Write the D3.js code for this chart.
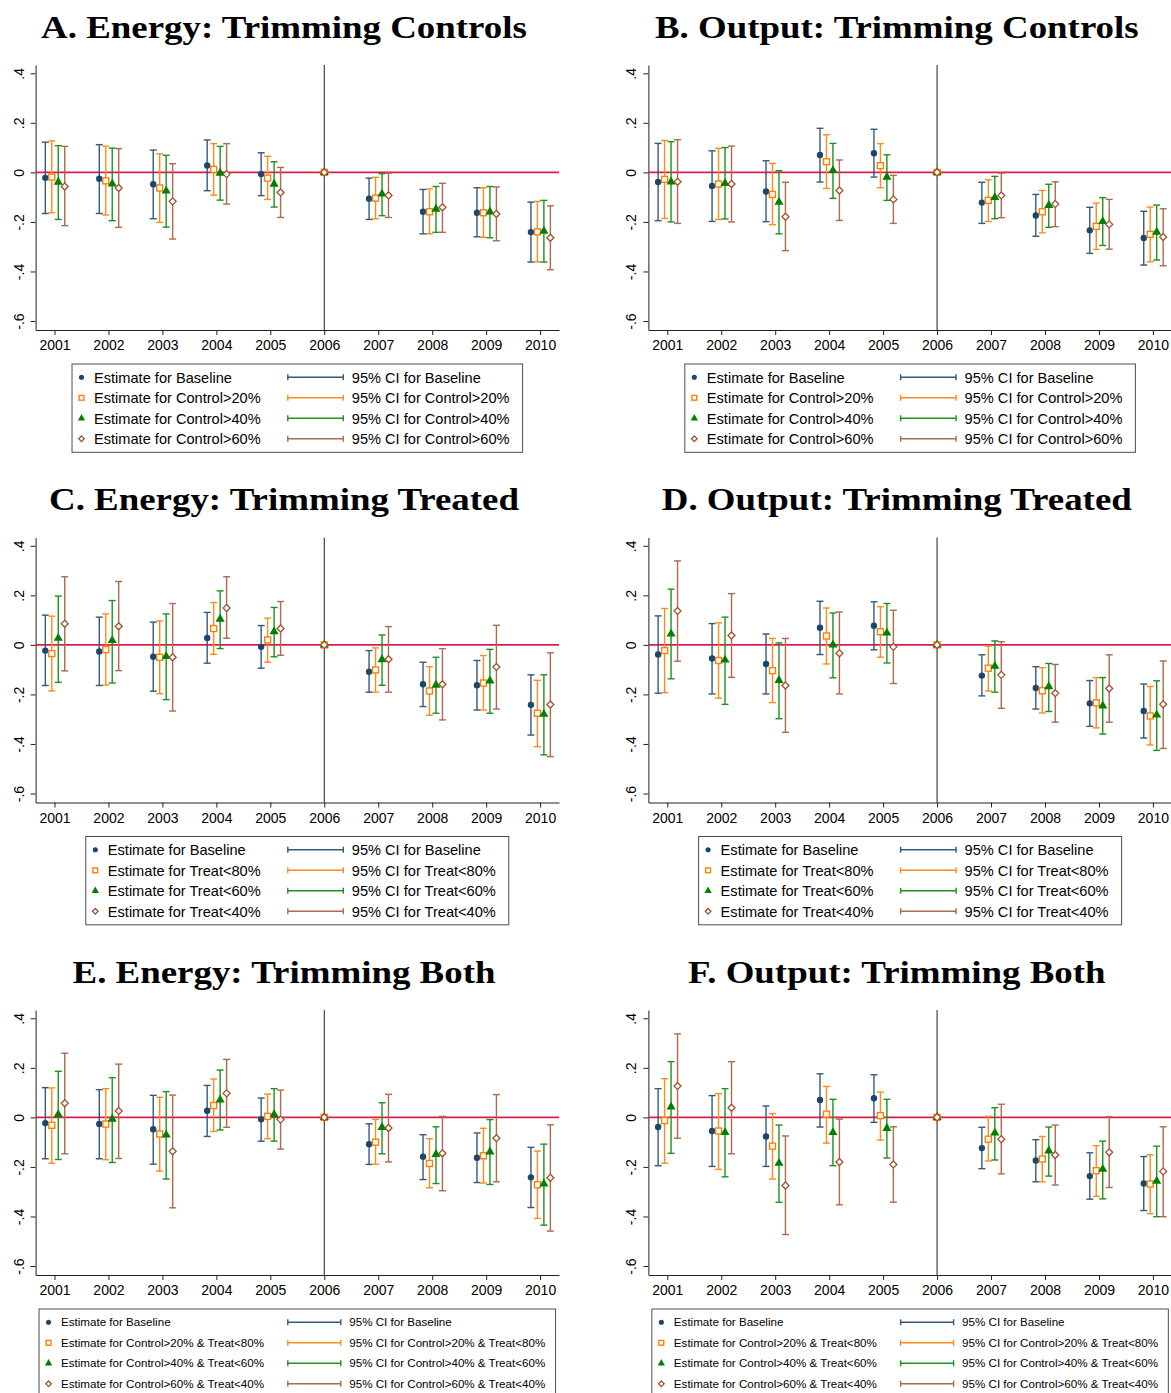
<!DOCTYPE html>
<html>
<head>
<meta charset="utf-8">
<script src="https://cdn.jsdelivr.net/npm/d3@7"></script>
<style>
  body { margin: 0; background: #fff; }
  svg { display: block; }
</style>
</head>
<body>
<div id="chart"></div>
<script>
// ---- data ----
const years = [2001, 2002, 2003, 2004, 2005, 2006, 2007, 2008, 2009, 2010];
const refYear = 2006;
const yTicks = [0.4, 0.2, 0, -0.2, -0.4, -0.6];
const yTickLabels = [".4", ".2", "0", "-.2", "-.4", "-.6"];

const titles = [
  "A. Energy: Trimming Controls", "B. Output: Trimming Controls",
  "C. Energy: Trimming Treated", "D. Output: Trimming Treated",
  "E. Energy: Trimming Both", "F. Output: Trimming Both"
];
const labelsControl = ["Baseline", "Control>20%", "Control>40%", "Control>60%"];
const labelsTreat = ["Baseline", "Treat<80%", "Treat<60%", "Treat<40%"];
const labelsBoth = ["Baseline", "Control>20% & Treat<80%", "Control>40% & Treat<60%", "Control>60% & Treat<40%"];

// rows: Baseline, 2nd, 3rd, 4th specification; columns: years (2006 = reference)
const estA = [
  [-0.022, -0.026, -0.048, 0.028, -0.007, 0, -0.106, -0.159, -0.163, -0.241],
  [-0.019, -0.034, -0.063, 0.012, -0.023, 0, -0.104, -0.159, -0.163, -0.240],
  [-0.039, -0.046, -0.075, -0.003, -0.047, 0, -0.087, -0.148, -0.159, -0.237],
  [-0.057, -0.063, -0.117, -0.007, -0.081, 0, -0.093, -0.141, -0.168, -0.264]
];
const loA = [
  [-0.166, -0.166, -0.187, -0.074, -0.094, null, -0.190, -0.248, -0.260, -0.362],
  [-0.163, -0.172, -0.202, -0.092, -0.109, null, -0.187, -0.248, -0.262, -0.361],
  [-0.190, -0.195, -0.221, -0.112, -0.140, null, -0.175, -0.242, -0.264, -0.362],
  [-0.215, -0.222, -0.269, -0.128, -0.182, null, -0.182, -0.242, -0.276, -0.393]
];
const hiA = [
  [0.122, 0.112, 0.090, 0.131, 0.079, null, -0.023, -0.069, -0.062, -0.120],
  [0.127, 0.106, 0.075, 0.116, 0.065, null, -0.020, -0.067, -0.062, -0.117],
  [0.108, 0.098, 0.069, 0.105, 0.043, null, -0.005, -0.057, -0.057, -0.113],
  [0.105, 0.096, 0.035, 0.116, 0.020, null, -0.003, -0.044, -0.059, -0.135]
];

const estB = [
  [-0.039, -0.055, -0.077, 0.070, 0.077, 0, -0.122, -0.174, -0.234, -0.265],
  [-0.028, -0.047, -0.089, 0.043, 0.027, 0, -0.113, -0.159, -0.218, -0.250],
  [-0.038, -0.044, -0.120, 0.008, -0.019, 0, -0.101, -0.133, -0.198, -0.241],
  [-0.038, -0.047, -0.179, -0.073, -0.109, 0, -0.093, -0.128, -0.210, -0.261]
];
const loB = [
  [-0.195, -0.198, -0.199, -0.039, -0.019, null, -0.206, -0.258, -0.327, -0.374],
  [-0.186, -0.190, -0.211, -0.065, -0.062, null, -0.198, -0.244, -0.311, -0.361],
  [-0.200, -0.188, -0.248, -0.105, -0.113, null, -0.187, -0.222, -0.295, -0.354],
  [-0.206, -0.200, -0.316, -0.194, -0.206, null, -0.183, -0.219, -0.310, -0.377]
];
const hiB = [
  [0.117, 0.087, 0.047, 0.178, 0.174, null, -0.040, -0.089, -0.141, -0.157],
  [0.129, 0.097, 0.036, 0.152, 0.116, null, -0.030, -0.073, -0.124, -0.140],
  [0.124, 0.100, 0.007, 0.117, 0.071, null, -0.016, -0.048, -0.102, -0.132],
  [0.132, 0.106, -0.040, 0.050, -0.012, null, -0.003, -0.038, -0.109, -0.147]
];

const estC = [
  [-0.023, -0.027, -0.048, 0.028, -0.008, 0, -0.108, -0.159, -0.163, -0.242],
  [-0.035, -0.019, -0.050, 0.066, 0.020, 0, -0.101, -0.186, -0.154, -0.276],
  [0.027, 0.018, -0.046, 0.104, 0.054, 0, -0.059, -0.162, -0.145, -0.280],
  [0.085, 0.075, -0.050, 0.149, 0.066, 0, -0.058, -0.159, -0.089, -0.241]
];
const loC = [
  [-0.164, -0.164, -0.187, -0.074, -0.094, null, -0.191, -0.249, -0.263, -0.364],
  [-0.186, -0.162, -0.197, -0.038, -0.070, null, -0.191, -0.284, -0.263, -0.411],
  [-0.151, -0.154, -0.221, -0.015, -0.048, null, -0.163, -0.276, -0.276, -0.444],
  [-0.105, -0.104, -0.267, 0.027, -0.042, null, -0.191, -0.303, -0.259, -0.451]
];
const hiC = [
  [0.120, 0.112, 0.092, 0.131, 0.078, null, -0.023, -0.070, -0.063, -0.121],
  [0.116, 0.125, 0.097, 0.171, 0.108, null, -0.012, -0.088, -0.043, -0.143],
  [0.197, 0.179, 0.125, 0.218, 0.151, null, 0.040, -0.050, -0.018, -0.121],
  [0.275, 0.256, 0.167, 0.275, 0.175, null, 0.074, -0.015, 0.079, -0.032]
];

const estD = [
  [-0.039, -0.055, -0.077, 0.069, 0.077, 0, -0.124, -0.174, -0.236, -0.267],
  [-0.023, -0.063, -0.104, 0.036, 0.053, 0, -0.094, -0.185, -0.234, -0.287],
  [0.044, -0.061, -0.143, 0.000, 0.048, 0, -0.086, -0.168, -0.246, -0.283],
  [0.137, 0.038, -0.164, -0.034, -0.008, 0, -0.121, -0.195, -0.176, -0.240]
];
const loD = [
  [-0.195, -0.198, -0.198, -0.039, -0.020, null, -0.206, -0.259, -0.329, -0.376],
  [-0.193, -0.215, -0.233, -0.077, -0.050, null, -0.186, -0.275, -0.335, -0.404],
  [-0.137, -0.240, -0.298, -0.133, -0.073, null, -0.191, -0.269, -0.360, -0.426],
  [-0.066, -0.131, -0.353, -0.198, -0.156, null, -0.256, -0.312, -0.312, -0.418]
];
const hiD = [
  [0.117, 0.086, 0.044, 0.176, 0.174, null, -0.040, -0.088, -0.144, -0.158],
  [0.147, 0.089, 0.026, 0.149, 0.154, null, -0.005, -0.092, -0.132, -0.168],
  [0.225, 0.112, 0.008, 0.129, 0.167, null, 0.016, -0.075, -0.132, -0.145],
  [0.339, 0.207, 0.026, 0.133, 0.140, null, 0.013, -0.079, -0.040, -0.065]
];

const estE = [
  [-0.023, -0.027, -0.048, 0.027, -0.008, 0, -0.108, -0.159, -0.163, -0.242],
  [-0.032, -0.027, -0.067, 0.048, 0.004, 0, -0.100, -0.186, -0.155, -0.272],
  [0.012, -0.007, -0.071, 0.071, 0.012, 0, -0.040, -0.149, -0.139, -0.268],
  [0.057, 0.026, -0.137, 0.097, -0.009, 0, -0.043, -0.145, -0.084, -0.244]
];
const loE = [
  [-0.167, -0.167, -0.189, -0.077, -0.096, null, -0.190, -0.251, -0.263, -0.364],
  [-0.185, -0.171, -0.217, -0.057, -0.086, null, -0.189, -0.284, -0.265, -0.408],
  [-0.170, -0.182, -0.249, -0.051, -0.096, null, -0.147, -0.267, -0.271, -0.435],
  [-0.147, -0.166, -0.365, -0.040, -0.128, null, -0.180, -0.296, -0.260, -0.459]
];
const hiE = [
  [0.120, 0.112, 0.089, 0.129, 0.078, null, -0.026, -0.070, -0.063, -0.121],
  [0.119, 0.116, 0.081, 0.155, 0.094, null, -0.008, -0.086, -0.044, -0.136],
  [0.186, 0.160, 0.104, 0.191, 0.116, null, 0.059, -0.038, -0.009, -0.108],
  [0.259, 0.215, 0.090, 0.234, 0.110, null, 0.093, 0.004, 0.092, -0.030]
];

const estF = [
  [-0.039, -0.055, -0.077, 0.070, 0.077, 0, -0.124, -0.174, -0.237, -0.267],
  [-0.013, -0.055, -0.116, 0.013, 0.007, 0, -0.088, -0.168, -0.215, -0.269],
  [0.042, -0.061, -0.185, -0.061, -0.044, 0, -0.063, -0.135, -0.209, -0.257],
  [0.127, 0.039, -0.275, -0.180, -0.190, 0, -0.088, -0.152, -0.141, -0.218]
];
const loF = [
  [-0.195, -0.198, -0.198, -0.039, -0.020, null, -0.207, -0.260, -0.330, -0.376],
  [-0.185, -0.210, -0.249, -0.104, -0.092, null, -0.176, -0.260, -0.319, -0.389],
  [-0.145, -0.240, -0.343, -0.195, -0.164, null, -0.172, -0.237, -0.329, -0.401],
  [-0.084, -0.147, -0.473, -0.353, -0.342, null, -0.228, -0.273, -0.283, -0.401]
];
const hiF = [
  [0.116, 0.088, 0.046, 0.176, 0.172, null, -0.040, -0.090, -0.143, -0.158],
  [0.156, 0.096, 0.015, 0.125, 0.102, null, 0.004, -0.077, -0.114, -0.151],
  [0.225, 0.116, -0.031, 0.073, 0.073, null, 0.039, -0.039, -0.096, -0.116],
  [0.337, 0.225, -0.075, -0.007, -0.038, null, 0.053, -0.031, 0.003, -0.038]
];

// ---- styling ----
const markerColors = ["#1a476f", "#ff8000", "#008000", "#a0522d"];
const ciColors = ["#34597f", "#ff8c1a", "#1f911f", "#ad6a4c"];
const offsets = [-0.17, -0.05, 0.07, 0.19];
const sansFont = "'Liberation Sans', Arial, sans-serif";

const W = 1171, H = 1393;
const colOffsets = [0, 612.8];
const rowOffsets = [0, 472.5, 945];
const plot = { left: 35.6, right: 559, top: 65, bottom: 330 };

const panels = [
  { title: titles[0], est: estA, lo: loA, hi: hiA, labels: labelsControl, col: 0, row: 0, fs: 14.6 },
  { title: titles[1], est: estB, lo: loB, hi: hiB, labels: labelsControl, col: 1, row: 0, fs: 14.6 },
  { title: titles[2], est: estC, lo: loC, hi: hiC, labels: labelsTreat, col: 0, row: 1, fs: 14.6 },
  { title: titles[3], est: estD, lo: loD, hi: hiD, labels: labelsTreat, col: 1, row: 1, fs: 14.6 },
  { title: titles[4], est: estE, lo: loE, hi: hiE, labels: labelsBoth, col: 0, row: 2, fs: 11.6 },
  { title: titles[5], est: estF, lo: loF, hi: hiF, labels: labelsBoth, col: 1, row: 2, fs: 11.6 }
];

const svg = d3.select("#chart").append("svg")
  .attr("width", W)
  .attr("height", H);
svg.append("rect").attr("width", W).attr("height", H).attr("fill", "#fff");

const x = d3.scaleLinear().domain([2000.65, 2010.35]).range([plot.left, plot.right]);
const y = d3.scaleLinear().domain([-0.6363, 0.4335]).range([plot.bottom, plot.top]);

// marker shapes per series
function drawMarker(g, i, cx, cy, k) {
  const s = k || 1;
  if (i === 0) {
    g.append("circle").attr("cx", cx).attr("cy", cy).attr("r", 3.2 * s)
      .attr("fill", markerColors[0]);
  } else if (i === 1) {
    const h = 3 * s;
    g.append("rect").attr("x", cx - h).attr("y", cy - h).attr("width", 2 * h).attr("height", 2 * h)
      .attr("fill", "#fff").attr("stroke", markerColors[1]).attr("stroke-width", 1.4);
  } else if (i === 2) {
    g.append("path")
      .attr("d", d3.symbol(d3.symbolTriangle, 36 * s * s)())
      .attr("transform", `translate(${cx},${cy})`)
      .attr("fill", markerColors[2]);
  } else {
    const h = 3.5 * s;
    g.append("path")
      .attr("d", `M${cx},${cy - h}L${cx + h},${cy}L${cx},${cy + h}L${cx - h},${cy}Z`)
      .attr("fill", "#fff").attr("stroke", markerColors[3]).attr("stroke-width", 1.3);
  }
}

panels.forEach((p) => {
  const g = svg.append("g")
    .attr("transform", `translate(${colOffsets[p.col]},${rowOffsets[p.row]})`);

  // title
  const t = g.append("text")
    .attr("x", 284)
    .attr("y", 37.7)
    .attr("text-anchor", "middle")
    .style("font-family", "'Liberation Serif', 'Times New Roman', serif")
    .style("font-weight", "bold")
    .style("font-size", "31px")
    .attr("fill", "#000")
    .text(p.title);
  const natural = t.node().getComputedTextLength();
  t.attr("textLength", natural * 1.19).attr("lengthAdjust", "spacingAndGlyphs");

  // axes
  const yAxis = g.append("g")
    .attr("transform", `translate(${plot.left},0)`)
    .call(d3.axisLeft(y).tickValues(yTicks)
      .tickFormat((d, i) => yTickLabels[i]).tickSize(5).tickSizeOuter(0));
  yAxis.select(".domain").attr("stroke", "#222");
  yAxis.selectAll(".tick line").attr("stroke", "#222");
  yAxis.selectAll(".tick text")
    .attr("x", 0).attr("y", -12).attr("dy", 0)
    .attr("transform", "rotate(-90)")
    .attr("text-anchor", "middle")
    .style("font-family", sansFont).style("font-size", "14px").attr("fill", "#000");

  const xAxis = g.append("g")
    .attr("transform", `translate(0,${plot.bottom})`)
    .call(d3.axisBottom(x).tickValues(years).tickFormat(d3.format("d"))
      .tickSize(5).tickSizeOuter(0));
  xAxis.select(".domain").attr("stroke", "#222");
  xAxis.selectAll(".tick line").attr("stroke", "#222");
  xAxis.selectAll(".tick text")
    .attr("y", 20).attr("dy", 0)
    .style("font-family", sansFont).style("font-size", "14px").attr("fill", "#000");

  // reference lines
  g.append("line")
    .attr("x1", plot.left).attr("x2", plot.right)
    .attr("y1", y(0)).attr("y2", y(0))
    .attr("stroke", "#d81e4b").attr("stroke-width", 1.6);
  g.append("line")
    .attr("x1", x(refYear)).attr("x2", x(refYear))
    .attr("y1", plot.top).attr("y2", plot.bottom)
    .attr("stroke", "#333").attr("stroke-width", 1.1);

  // confidence intervals
  const cap = 3.5;
  p.est.forEach((row, i) => {
    row.forEach((v, j) => {
      if (p.lo[i][j] === null) return;
      const cx = x(years[j] + offsets[i]);
      const y1 = y(p.lo[i][j]), y2 = y(p.hi[i][j]);
      const ci = g.append("g").attr("stroke", ciColors[i]).attr("stroke-width", 1.4);
      ci.append("line").attr("x1", cx).attr("x2", cx).attr("y1", y1).attr("y2", y2);
      ci.append("line").attr("x1", cx - cap).attr("x2", cx + cap).attr("y1", y1).attr("y2", y1);
      ci.append("line").attr("x1", cx - cap).attr("x2", cx + cap).attr("y1", y2).attr("y2", y2);
    });
  });

  // point estimates
  p.est.forEach((row, i) => {
    row.forEach((v, j) => {
      const yr = years[j];
      const cx = x(yr === refYear ? yr : yr + offsets[i]);
      drawMarker(g, i, cx, y(v));
    });
  });

  // legend
  const fs = p.fs;
  const cxMid = (plot.left + plot.right) / 2;
  const rowY0 = y(0.4) + 304;
  const rowStep = 20.5;
  const lineX0 = cxMid - 9.5;
  const lineLen = fs > 12 ? 55.5 : 53;
  const col2X = lineX0 + lineLen + 8.5;
  const leg = g.append("g");
  const box = leg.append("rect");
  const col2 = p.labels.map((lab, i) => leg.append("text")
    .attr("x", col2X).attr("y", rowY0 + i * rowStep + fs * 0.36)
    .style("font-family", sansFont).style("font-size", fs + "px").attr("fill", "#000")
    .text("95% CI for " + lab));
  const w2 = d3.max(col2, (s) => s.node().getComputedTextLength());
  const boxRight = col2X + w2 + 13 * fs / 14.6;
  const boxLeft = 2 * cxMid - boxRight;
  const boxTop = y(0.4) + 290.7;
  box.attr("x", boxLeft).attr("y", boxTop)
    .attr("width", boxRight - boxLeft).attr("height", 88.3)
    .attr("fill", "#fff").attr("stroke", "#4d4d4d").attr("stroke-width", 1);

  p.labels.forEach((lab, i) => {
    const ry = rowY0 + i * rowStep;
    drawMarker(leg, i, boxLeft + 9.5, ry, 0.8);
    leg.append("text")
      .attr("x", boxLeft + 22).attr("y", ry + fs * 0.36)
      .style("font-family", sansFont).style("font-size", fs + "px").attr("fill", "#000")
      .text("Estimate for " + lab);
    const k = leg.append("g").attr("stroke", ciColors[i]).attr("stroke-width", 1.4);
    k.append("line").attr("x1", lineX0).attr("x2", lineX0 + lineLen).attr("y1", ry).attr("y2", ry);
    k.append("line").attr("x1", lineX0).attr("x2", lineX0).attr("y1", ry - 3).attr("y2", ry + 3);
    k.append("line").attr("x1", lineX0 + lineLen).attr("x2", lineX0 + lineLen).attr("y1", ry - 3).attr("y2", ry + 3);
  });
});
</script>
</body>
</html>
